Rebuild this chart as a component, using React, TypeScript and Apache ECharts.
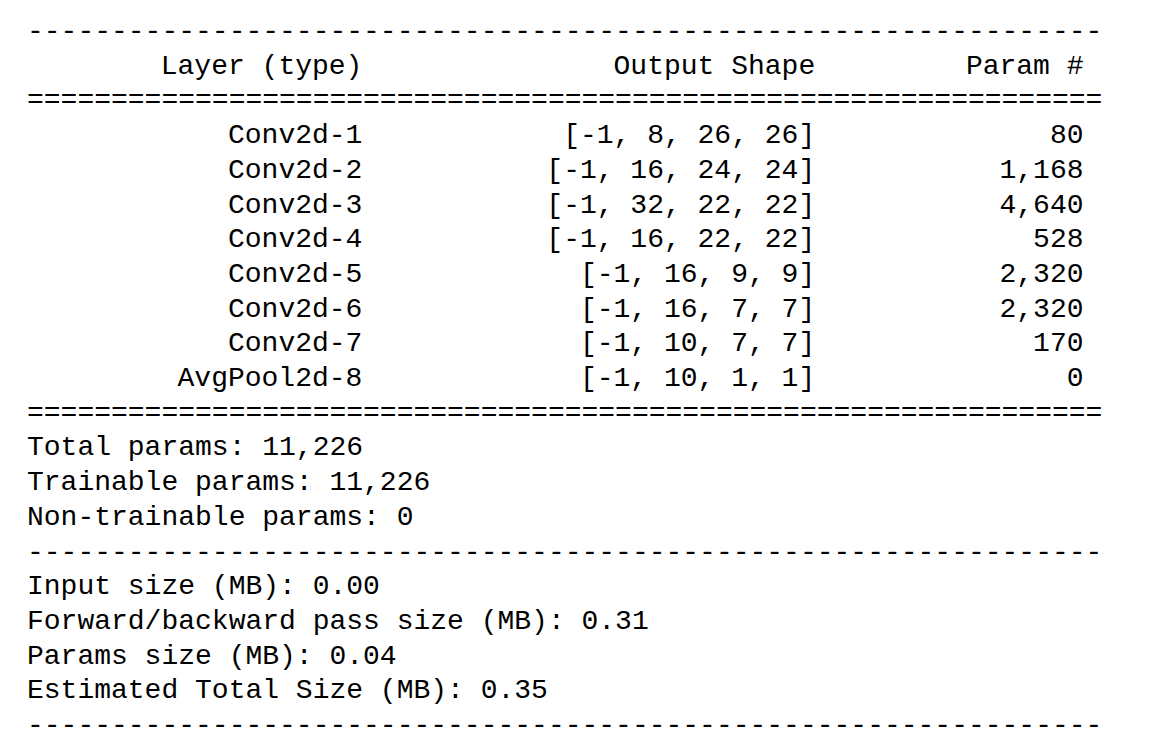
import React, { useEffect, useRef } from 'react';
import * as echarts from 'echarts';

const layers = ['Conv2d-1', 'Conv2d-2', 'Conv2d-3', 'Conv2d-4', 'Conv2d-5', 'Conv2d-6', 'Conv2d-7', 'AvgPool2d-8'];
const shapes = ['[-1, 8, 26, 26]', '[-1, 16, 24, 24]', '[-1, 32, 22, 22]', '[-1, 16, 22, 22]', '[-1, 16, 9, 9]', '[-1, 16, 7, 7]', '[-1, 10, 7, 7]', '[-1, 10, 1, 1]'];
const params = ['80', '1,168', '4,640', '528', '2,320', '2,320', '170', '0'];
const paramLines = ['Total params: 11,226', 'Trainable params: 11,226', 'Non-trainable params: 0'];
const sizeLines = ['Input size (MB): 0.00', 'Forward/backward pass size (MB): 0.31', 'Params size (MB): 0.04', 'Estimated Total Size (MB): 0.35'];

const FONT = '"Liberation Mono", "DejaVu Sans Mono", monospace';
const SIZE = 28;
const CW = 16.77;
const X0 = 27;
const Y0 = 31.5;
const LH = 34.7;

const App = () => {
  const chartRef = useRef(null);

  useEffect(() => {
    const myChart = echarts.init(chartRef.current, null, { renderer: 'svg' });
    const els: any[] = [];
    let row = 0;
    const txt = (s: string, col: number, align: string) => {
      els.push({
        type: 'text',
        x: X0 + col * CW,
        y: Y0 + row * LH,
        style: { text: s, font: `${SIZE}px ${FONT}`, fill: '#000', textAlign: align, textVerticalAlign: 'middle' },
      });
    };
    const line = (s: string) => { txt(s, 0, 'left'); row++; };
    const cols = (a: string, b: string, c: string) => {
      txt(a, 20, 'right'); txt(b, 47, 'right'); txt(c, 63, 'right'); row++;
    };

    line('-'.repeat(64));
    cols('Layer (type)', 'Output Shape', 'Param #');
    line('='.repeat(64));
    layers.forEach((l, i) => cols(l, shapes[i], params[i]));
    line('='.repeat(64));
    paramLines.forEach(line);
    line('-'.repeat(64));
    sizeLines.forEach(line);
    line('-'.repeat(64));

    myChart.setOption({ animation: false, backgroundColor: '#fff', graphic: els });
    return () => { myChart.dispose(); };
  }, []);

  return <div ref={chartRef} style={{ position: 'fixed', left: 0, top: 0, width: '1158px', height: '744px' }} />;
};

export default App;
